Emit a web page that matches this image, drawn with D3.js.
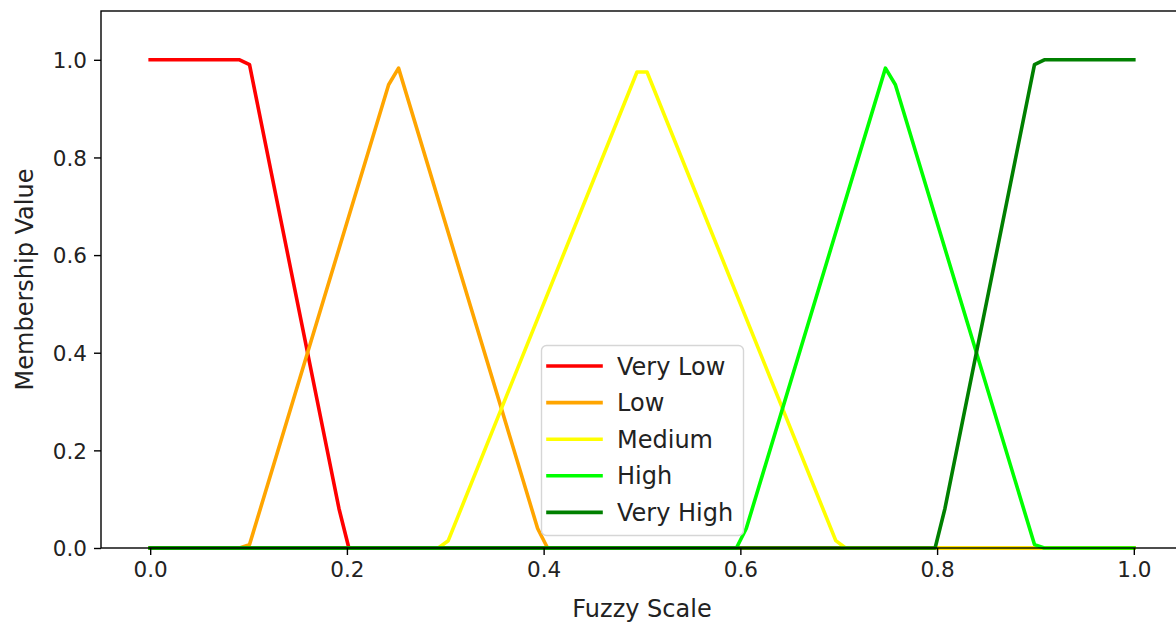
<!DOCTYPE html>
<html>
<head>
<meta charset="utf-8">
<script src="https://cdn.jsdelivr.net/npm/d3@7"></script>
<style>
    html, body { margin: 0; padding: 0; background: #fff; }
    svg { display: block; font-family: "DejaVu Sans", sans-serif; }
</style>
</head>
<body>
<svg id="chart"></svg>
<script>
// Membership curves, vertices (x on fuzzy scale, y membership)
const veryLowX = [0, 0.0909, 0.101, 0.1919, 0.202, 1];
const veryLowY = [1, 1, 0.99, 0.081, 0, 0];
const lowX = [0, 0.0909, 0.101, 0.2424, 0.2525, 0.3939, 0.404, 1];
const lowY = [0, 0, 0.007, 0.949, 0.983, 0.040, 0, 0];
const mediumX = [0, 0.2929, 0.303, 0.4949, 0.5051, 0.697, 0.707, 1];
const mediumY = [0, 0, 0.015, 0.975, 0.975, 0.015, 0, 0];
const highX = [0, 0.596, 0.606, 0.7475, 0.7576, 0.899, 0.909, 1];
const highY = [0, 0, 0.040, 0.983, 0.949, 0.007, 0, 0];
const veryHighX = [0, 0.798, 0.808, 0.899, 0.909, 1];
const veryHighY = [0, 0, 0.081, 0.99, 1, 1];

const seriesNames = ['Very Low', 'Low', 'Medium', 'High', 'Very High'];
const seriesColors = ['#ff0000', '#ffa500', '#ffff00', '#00ff00', '#008000'];
const xTicks = [0, 0.2, 0.4, 0.6, 0.8, 1.0];
const yTicks = [0, 0.2, 0.4, 0.6, 0.8, 1.0];

(function() {

    const w = 1176;
    const h = 625;

    // Axes box (right edge runs past the picture, as in the original crop)
    const left = 101, right = 1183, top = 11, bottom = 548;
    const tickFont = 21.5;
    const labelFont = 24;

    const series = [
        [veryLowX, veryLowY],
        [lowX, lowY],
        [mediumX, mediumY],
        [highX, highY],
        [veryHighX, veryHighY]
    ].map(([xs, ys], i) => ({
        name: seriesNames[i],
        color: seriesColors[i],
        points: xs.map((x, j) => [x, ys[j]])
    }));

    const scaleX = d3.scaleLinear().domain([-0.05, 1.05]).range([left, right]);
    const scaleY = d3.scaleLinear().domain([0, 1.1]).range([bottom, top]);

    const svg = d3.select('#chart')
        .attr('width', w)
        .attr('height', h);

    // Lines
    const line = d3.line()
        .x(d => scaleX(d[0]))
        .y(d => scaleY(d[1]));

    svg.append('g')
        .selectAll('path')
        .data(series)
        .join('path')
        .attr('d', d => line(d.points))
        .attr('fill', 'none')
        .attr('stroke', d => d.color)
        .attr('stroke-width', 3.6)
        .attr('stroke-linejoin', 'round')
        .attr('stroke-linecap', 'square');

    // Axes
    const xAxis = d3.axisBottom(scaleX)
        .tickValues(xTicks)
        .tickFormat(d3.format('.1f'))
        .tickSize(7)
        .tickPadding(7)
        .tickSizeOuter(0);

    const yAxis = d3.axisLeft(scaleY)
        .tickValues(yTicks)
        .tickFormat(d3.format('.1f'))
        .tickSize(7)
        .tickPadding(7)
        .tickSizeOuter(0);

    const gx = svg.append('g')
        .attr('transform', `translate(0, ${bottom})`)
        .call(xAxis);

    const gy = svg.append('g')
        .attr('transform', `translate(${left}, 0)`)
        .call(yAxis);

    [gx, gy].forEach(g => {
        g.select('.domain').remove();
        g.selectAll('.tick line').attr('stroke', '#000').attr('stroke-width', 1.4);
        g.selectAll('.tick text')
            .attr('font-family', '"DejaVu Sans", sans-serif')
            .attr('font-size', tickFont)
            .attr('fill', '#222');
    });
    gy.selectAll('.tick text').attr('dy', '0.36em');

    // Frame
    svg.append('rect')
        .attr('x', left)
        .attr('y', top)
        .attr('width', right - left)
        .attr('height', bottom - top)
        .attr('fill', 'none')
        .attr('stroke', '#000')
        .attr('stroke-width', 1.4);

    // Axis labels
    svg.append('text')
        .attr('x', 642)
        .attr('y', 617)
        .attr('text-anchor', 'middle')
        .attr('font-size', labelFont)
        .attr('fill', '#222')
        .text('Fuzzy Scale');

    svg.append('text')
        .attr('transform', `translate(33, ${(top + bottom) / 2}) rotate(-90)`)
        .attr('text-anchor', 'middle')
        .attr('font-size', labelFont)
        .attr('fill', '#222')
        .text('Membership Value');

    // Legend
    const legend = svg.append('g').attr('transform', 'translate(541, 345)');

    legend.append('rect')
        .attr('x', 0.5)
        .attr('y', 0.5)
        .attr('width', 202)
        .attr('height', 190)
        .attr('rx', 5)
        .attr('fill', '#fff')
        .attr('fill-opacity', 0.8)
        .attr('stroke', '#d6d6d6')
        .attr('stroke-width', 1.4);

    const rows = legend.selectAll('g.row')
        .data(series)
        .join('g')
        .attr('class', 'row')
        .attr('transform', (d, i) => `translate(0, ${21 + i * 36.6})`);

    rows.append('line')
        .attr('x1', 7)
        .attr('x2', 60)
        .attr('stroke', d => d.color)
        .attr('stroke-width', 3.6)
        .attr('stroke-linecap', 'square');

    rows.append('text')
        .attr('x', 76)
        .attr('dy', '0.36em')
        .attr('font-size', labelFont)
        .attr('fill', '#222')
        .text(d => d.name);

})();
</script>
</body>
</html>
